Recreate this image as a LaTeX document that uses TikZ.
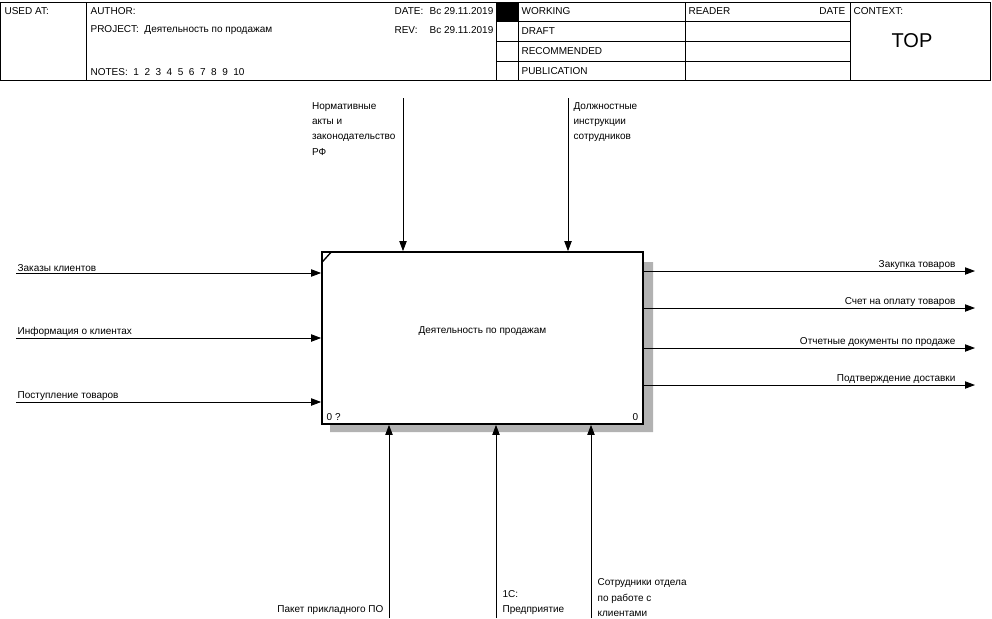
\documentclass[tikz,border=0pt]{standalone}
\usepackage{fontspec}
\setmainfont{Liberation Sans}
\usetikzlibrary{arrows.meta,calc}

\begin{document}
\begin{tikzpicture}[x=0.75pt,y=-0.75pt,font=\fontsize{7.5}{11.4}\selectfont,
 lbl/.style={inner sep=1pt,align=left},
 flow/.style={-{Triangle[length=7.5pt,width=5.5pt]},line width=0.65pt},
 rule/.style={line width=0.6pt}]
 \useasboundingbox (0,0) rectangle (992,618);
 % title block
 \draw[rule] (0,2) rectangle (990,80);
 \draw[rule] (86,2)--(86,80) (496,2)--(496,80) (518,2)--(518,80) (685,2)--(685,80) (850,2)--(850,80);
 \draw[rule] (496,21)--(850,21) (496,41)--(850,41) (496,61)--(850,61);
 \fill (496,2) rectangle (518,21);
 \node[lbl,anchor=west] (usedat) at (3,11) {USED AT:};
 \node[lbl,anchor=west] (author) at (89,11) {AUTHOR:};
 \node[lbl,anchor=west] (project) at (89,30) {PROJECT:\ \ Деятельность по продажам};
 \node[lbl,anchor=west] (notes) at (89,72) {NOTES:\ \ 1\ \ 2\ \ 3\ \ 4\ \ 5\ \ 6\ \ 7\ \ 8\ \ 9\ \ 10};
 \node[lbl,anchor=west] (date) at (393,11) {DATE:};
 \node[lbl,anchor=west] (dateval) at (428,11) {Вс 29.11.2019};
 \node[lbl,anchor=west] (rev) at (393,30) {REV:};
 \node[lbl,anchor=west] (revval) at (428,30) {Вс 29.11.2019};
 \foreach \n/\y/\t in {1/11/WORKING,2/31/DRAFT,3/51/RECOMMENDED,4/71/PUBLICATION}
  {\node[lbl,anchor=west] (status\n) at (520,\y) {\t};}
 \node[lbl,anchor=west] (reader) at (687,11) {READER};
 \node[lbl,anchor=east] (readerdate) at (847,11) {DATE};
 \node[lbl,anchor=west] (context) at (852,11) {CONTEXT:};
 \node[font=\fontsize{15}{15}\selectfont] (top) at (912,41) {TOP};
 % activity box with shadow
 \fill[gray!60] (643,262) rectangle (653,432) (330,424) rectangle (653,432);
 \node[draw,fill=white,line width=1.3pt,minimum width=240.75pt,minimum height=129pt,inner sep=0pt] (box) at (482.5,338) {};
 \draw[line width=1pt] ($(box.north west)+(1,11)$) -- ($(box.north west)+(10,1)$);
 \node (boxlbl) at ($(box.center)+(0,-7)$) {Деятельность по продажам};
 \node[lbl,anchor=south west] (boxnum) at ($(box.south west)+(4,-3)$) {0 ?};
 \node[lbl,anchor=south east] (boxref) at ($(box.south east)+(-4,-3)$) {0};
 % inputs
 \foreach \n/\y/\t in {1/273/Заказы клиентов,2/338/Информация о клиентах,3/402/Поступление товаров}{
  \coordinate (in\n) at (16,\y);
  \node[lbl,anchor=south west] (inlbl\n) at (in\n) {\t};
  \draw[flow] (in\n) -- (in\n -| box.west);
 }
 % outputs
 \foreach \n/\y/\t in {1/271/Закупка товаров,2/308/Счет на оплату товаров,3/348/Отчетные документы по продаже,4/385/Подтверждение доставки}{
  \coordinate (out\n) at (975,\y);
  \draw[flow] (box.east |- out\n) -- (out\n);
  \node[lbl,anchor=south east] (outlbl\n) at ($(out\n)+(-18,0)$) {\t};
 }
 % controls
 \coordinate (ctl1) at (403,98);
 \coordinate (ctl2) at (568,98);
 \draw[flow] (ctl1) -- (ctl1 |- box.north);
 \draw[flow] (ctl2) -- (ctl2 |- box.north);
 \node[lbl,anchor=north east] (ctllbl1) at ($(ctl1)+(-6,3)$) {Нормативные\\акты и\\законодательство\\РФ};
 \node[lbl,anchor=north west] (ctllbl2) at ($(ctl2)+(4,3)$) {Должностные\\инструкции\\сотрудников};
 % mechanisms
 \coordinate (mec1) at (389,618);
 \coordinate (mec2) at (496,618);
 \coordinate (mec3) at (591,618);
 \foreach \n in {1,2,3}{\draw[flow] (mec\n) -- (mec\n |- box.south);}
 \node[lbl,anchor=south east] (meclbl1) at ($(mec1)+(-4,-2)$) {Пакет прикладного ПО};
 \node[lbl,anchor=south west] (meclbl2) at ($(mec2)+(5,-2)$) {1С:\\Предприятие};
 \node[lbl,anchor=south west] (meclbl3) at ($(mec3)+(5,0)$) {Сотрудники отдела\\по работе с\\клиентами};
\end{tikzpicture}
\end{document}
